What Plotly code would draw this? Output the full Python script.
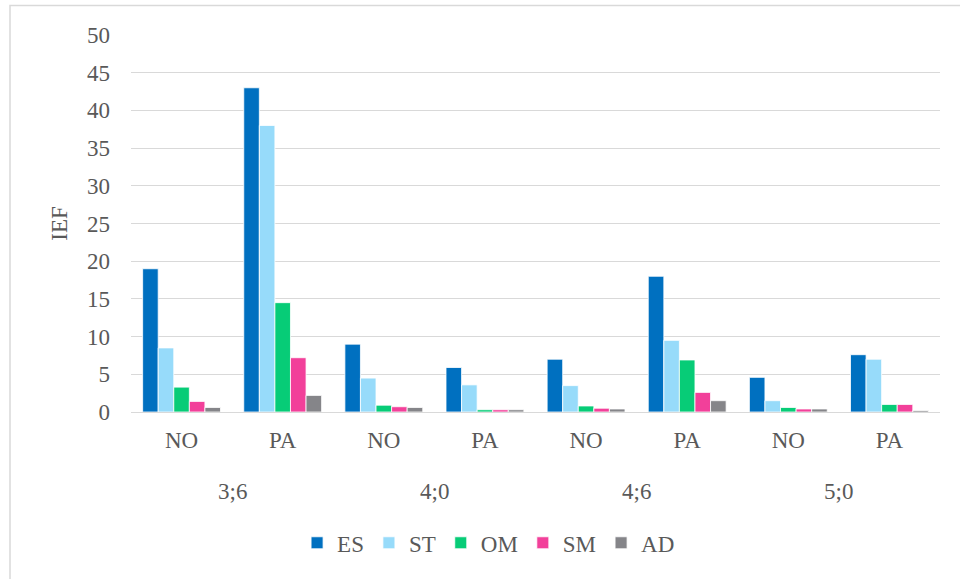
import plotly.graph_objects as go

ages = ["3;6", "4;0", "4;6", "5;0"]
groups = ["NO", "PA", "NO", "PA", "NO", "PA", "NO", "PA"]
series = ["ES", "ST", "OM", "SM", "AD"]
colors = ["#0070C0", "#97DBFA", "#07CC77", "#F2409A", "#858589"]

ES = [19.0, 43.0, 9.0, 5.9, 7.0, 18.0, 4.6, 7.6]
ST = [8.5, 38.0, 4.5, 3.6, 3.5, 9.5, 1.5, 7.0]
OM = [3.3, 14.5, 0.9, 0.3, 0.8, 6.9, 0.6, 1.0]
SM = [1.4, 7.2, 0.7, 0.3, 0.5, 2.6, 0.4, 1.0]
AD = [0.6, 2.2, 0.6, 0.3, 0.4, 1.5, 0.4, 0.2]
values = [ES, ST, OM, SM, AD]

FONT = "Liberation Serif"
GRAY = "#595959"
FS = 23

x = list(range(len(groups)))
fig = go.Figure()
for name, vals, col in zip(series, values, colors):
    fig.add_trace(go.Bar(x=x, y=vals, name=name,
                         marker=dict(color=col, line=dict(color="white", width=0.8))))

for i, a in enumerate(ages):
    fig.add_annotation(x=2 * i + 0.5, xref="x", y=-0.212, yref="paper", yanchor="middle",
                       text=a, showarrow=False, font=dict(family=FONT, size=FS, color=GRAY))

# chart frame (left and top edges visible)
fig.add_shape(type="rect", xref="paper", yref="paper",
              x0=(10 - 131) / 809, x1=(975 - 131) / 809,
              y0=(412 - 590) / 377, y1=(412 - 5.5) / 377,
              line=dict(color="#d9d9d9", width=1.5), fillcolor="rgba(0,0,0,0)")

fig.update_layout(
    width=960, height=579,
    margin=dict(l=131, r=20, t=35, b=167),
    paper_bgcolor="white", plot_bgcolor="white",
    barmode="group", bargap=0.23, bargroupgap=0,
    font=dict(family=FONT, size=FS, color=GRAY),
    showlegend=True,
    legend=dict(orientation="h", x=0.442, xanchor="center", y=-0.347, yanchor="middle",
                font=dict(family=FONT, size=FS, color=GRAY), itemwidth=30, tracegroupgap=0),
    xaxis=dict(tickmode="array", tickvals=x, ticktext=groups, showgrid=False,
               showline=False, ticks="", range=[-0.5, 7.5], tickfont=dict(size=FS),
               ticklabelstandoff=12),
    yaxis=dict(range=[0, 50], dtick=5, showgrid=True, gridcolor="#d9d9d9", gridwidth=1.3,
               zeroline=True, zerolinecolor="#d9d9d9", zerolinewidth=1.3,
               ticks="", tickfont=dict(size=FS), ticklabelstandoff=20,
               title=dict(text="IEF", font=dict(size=FS, color=GRAY), standoff=12)),
)

fig.write_html("out.html", config={"displayModeBar": False},
               post_script="document.body.style.margin='0px';document.body.style.overflow='hidden';")
